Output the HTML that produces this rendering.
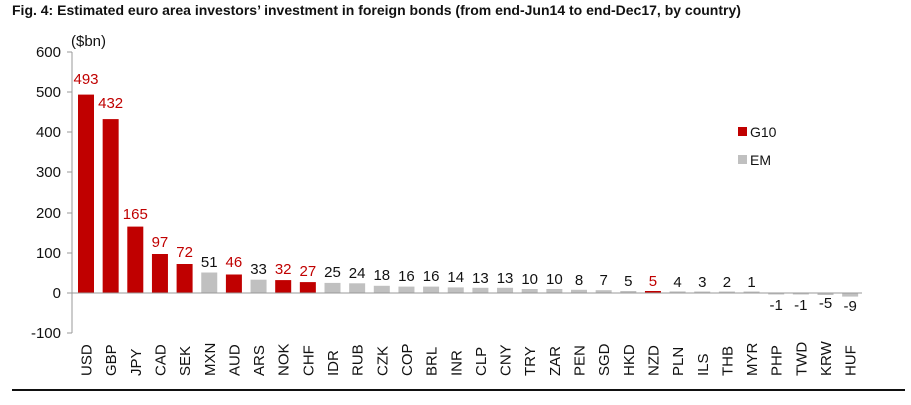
<!DOCTYPE html>
<html><head><meta charset="utf-8"><style>
body{margin:0;background:#fff;width:911px;height:400px;overflow:hidden;font-family:"Liberation Sans",Arial,sans-serif}
</style></head><body>
<svg width="911" height="400" xmlns="http://www.w3.org/2000/svg" font-family="Liberation Sans, Arial, sans-serif">
<text x="12" y="15" font-size="14" font-weight="bold" fill="#111">Fig. 4: Estimated euro area investors’ investment in foreign bonds (from end-Jun14 to end-Dec17, by country)</text>
<text x="71" y="46" font-size="15" fill="#111">($bn)</text>
<g fill="#c00000">
<rect x="78" y="94.6" width="16" height="198.4"/>
<rect x="102.65" y="119.1" width="16" height="173.9"/>
<rect x="127.3" y="226.6" width="16" height="66.4"/>
<rect x="151.95" y="254" width="16" height="39"/>
<rect x="176.6" y="264" width="16" height="29"/>
<rect x="225.9" y="274.5" width="16" height="18.5"/>
<rect x="275.2" y="280.1" width="16" height="12.9"/>
<rect x="299.85" y="282.1" width="16" height="10.9"/>
<rect x="644.95" y="291" width="16" height="2"/>
</g>
<g fill="#c0c0c0">
<rect x="201.25" y="272.5" width="16" height="20.5"/>
<rect x="250.55" y="279.7" width="16" height="13.3"/>
<rect x="324.5" y="282.9" width="16" height="10.1"/>
<rect x="349.15" y="283.3" width="16" height="9.7"/>
<rect x="373.8" y="285.8" width="16" height="7.2"/>
<rect x="398.45" y="286.6" width="16" height="6.4"/>
<rect x="423.1" y="286.6" width="16" height="6.4"/>
<rect x="447.75" y="287.4" width="16" height="5.6"/>
<rect x="472.4" y="287.8" width="16" height="5.2"/>
<rect x="497.05" y="287.8" width="16" height="5.2"/>
<rect x="521.7" y="289" width="16" height="4"/>
<rect x="546.35" y="289" width="16" height="4"/>
<rect x="571" y="289.8" width="16" height="3.2"/>
<rect x="595.65" y="290.2" width="16" height="2.8"/>
<rect x="620.3" y="291" width="16" height="2"/>
<rect x="669.6" y="291.4" width="16" height="1.6"/>
<rect x="694.25" y="291.5" width="16" height="1.5"/>
<rect x="718.9" y="291.5" width="16" height="1.5"/>
<rect x="743.55" y="291.5" width="16" height="1.5"/>
<rect x="768.2" y="293" width="16" height="1.5"/>
<rect x="792.85" y="293" width="16" height="1.5"/>
<rect x="817.5" y="293" width="16" height="2"/>
<rect x="842.15" y="293" width="16" height="3.6"/>
</g>
<line x1="72" y1="52" x2="72" y2="333" stroke="#999"/>
<line x1="72" y1="293" x2="862" y2="293" stroke="#999"/>
<g stroke="#999">
<line x1="67" y1="52" x2="72" y2="52"/><line x1="67" y1="92" x2="72" y2="92"/><line x1="67" y1="132" x2="72" y2="132"/><line x1="67" y1="172" x2="72" y2="172"/><line x1="67" y1="213" x2="72" y2="213"/><line x1="67" y1="253" x2="72" y2="253"/><line x1="67" y1="293" x2="72" y2="293"/><line x1="67" y1="333" x2="72" y2="333"/>
</g>
<g font-size="15" fill="#111" text-anchor="end">
<text x="61" y="57">600</text><text x="61" y="97">500</text><text x="61" y="137">400</text><text x="61" y="177">300</text><text x="61" y="218">200</text><text x="61" y="258">100</text><text x="61" y="298">0</text><text x="61" y="338">-100</text>
</g>
<g font-size="15" text-anchor="middle" fill="#c00000">
<text x="86" y="84">493</text>
<text x="110.65" y="108">432</text>
<text x="135.3" y="219">165</text>
<text x="159.95" y="247">97</text>
<text x="184.6" y="257">72</text>
<text x="233.9" y="267">46</text>
<text x="283.2" y="274">32</text>
<text x="307.85" y="276">27</text>
<text x="652.95" y="286">5</text>
</g>
<g font-size="15" text-anchor="middle" fill="#111">
<text x="209.25" y="267">51</text>
<text x="258.55" y="274">33</text>
<text x="332.5" y="277">25</text>
<text x="357.15" y="278">24</text>
<text x="381.8" y="280">18</text>
<text x="406.45" y="281">16</text>
<text x="431.1" y="281">16</text>
<text x="455.75" y="282">14</text>
<text x="480.4" y="283">13</text>
<text x="505.05" y="283">13</text>
<text x="529.7" y="284">10</text>
<text x="554.35" y="284">10</text>
<text x="579" y="285">8</text>
<text x="603.65" y="285">7</text>
<text x="628.3" y="286">5</text>
<text x="677.6" y="287">4</text>
<text x="702.25" y="287">3</text>
<text x="726.9" y="287">2</text>
<text x="751.55" y="287">1</text>
<text x="776.2" y="310">-1</text>
<text x="800.85" y="310">-1</text>
<text x="825.5" y="308">-5</text>
<text x="850.15" y="311">-9</text>
</g>
<g font-size="15" fill="#111">
<text transform="translate(91.5,376) rotate(-90)">USD</text>
<text transform="translate(116.15,376) rotate(-90)">GBP</text>
<text transform="translate(140.8,376) rotate(-90)">JPY</text>
<text transform="translate(165.45,376) rotate(-90)">CAD</text>
<text transform="translate(190.1,376) rotate(-90)">SEK</text>
<text transform="translate(214.75,376) rotate(-90)">MXN</text>
<text transform="translate(239.4,376) rotate(-90)">AUD</text>
<text transform="translate(264.05,376) rotate(-90)">ARS</text>
<text transform="translate(288.7,376) rotate(-90)">NOK</text>
<text transform="translate(313.35,376) rotate(-90)">CHF</text>
<text transform="translate(338,376) rotate(-90)">IDR</text>
<text transform="translate(362.65,376) rotate(-90)">RUB</text>
<text transform="translate(387.3,376) rotate(-90)">CZK</text>
<text transform="translate(411.95,376) rotate(-90)">COP</text>
<text transform="translate(436.6,376) rotate(-90)">BRL</text>
<text transform="translate(461.25,376) rotate(-90)">INR</text>
<text transform="translate(485.9,376) rotate(-90)">CLP</text>
<text transform="translate(510.55,376) rotate(-90)">CNY</text>
<text transform="translate(535.2,376) rotate(-90)">TRY</text>
<text transform="translate(559.85,376) rotate(-90)">ZAR</text>
<text transform="translate(584.5,376) rotate(-90)">PEN</text>
<text transform="translate(609.15,376) rotate(-90)">SGD</text>
<text transform="translate(633.8,376) rotate(-90)">HKD</text>
<text transform="translate(658.45,376) rotate(-90)">NZD</text>
<text transform="translate(683.1,376) rotate(-90)">PLN</text>
<text transform="translate(707.75,376) rotate(-90)">ILS</text>
<text transform="translate(732.4,376) rotate(-90)">THB</text>
<text transform="translate(757.05,376) rotate(-90)">MYR</text>
<text transform="translate(781.7,376) rotate(-90)">PHP</text>
<text transform="translate(806.35,376) rotate(-90)">TWD</text>
<text transform="translate(831,376) rotate(-90)">KRW</text>
<text transform="translate(855.65,376) rotate(-90)">HUF</text>
</g>
<rect x="738" y="127" width="9" height="9" fill="#c00000"/><text x="750" y="137" font-size="14" fill="#111">G10</text>
<rect x="738" y="155" width="9" height="9" fill="#c0c0c0"/><text x="750" y="165" font-size="14" fill="#111">EM</text>
<line x1="12" y1="390" x2="905" y2="390" stroke="#111" stroke-width="2"/>
</svg>
</body></html>
